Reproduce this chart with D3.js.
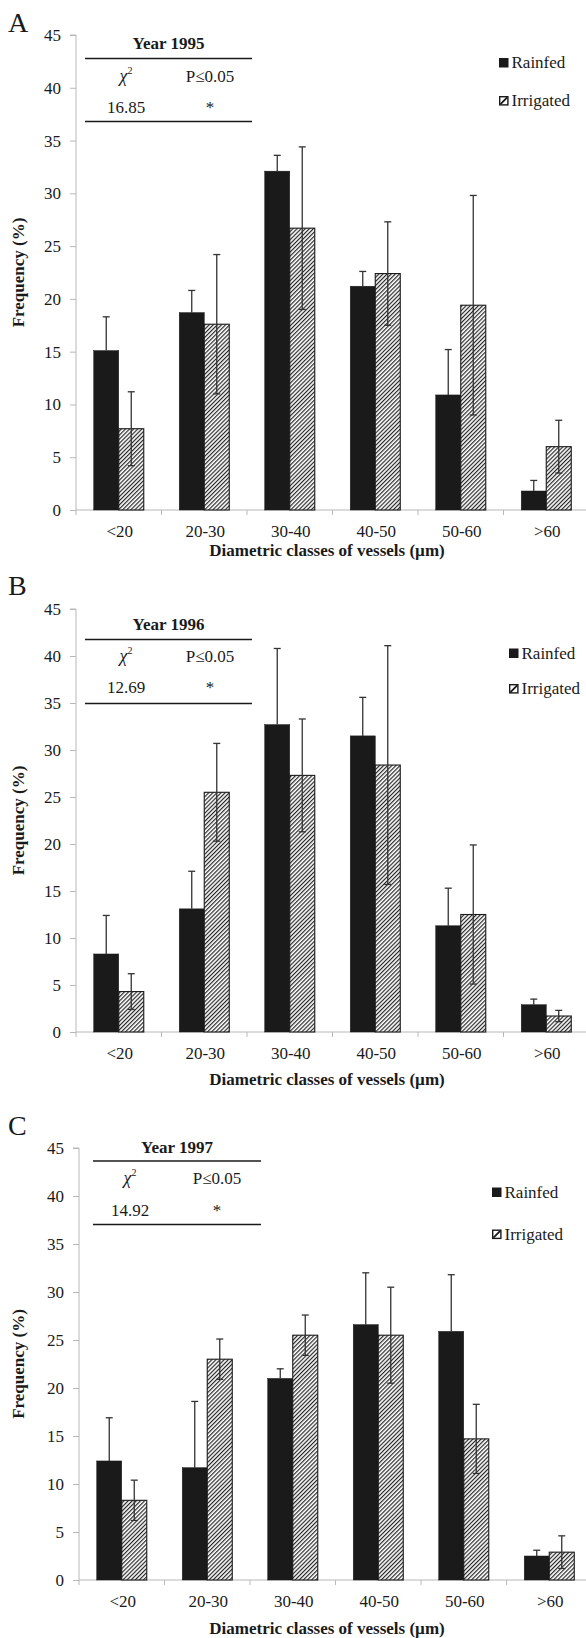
<!DOCTYPE html>
<html>
<head>
<meta charset="utf-8">
<script src="https://cdn.jsdelivr.net/npm/d3@7"></script>
<style>
  body { margin: 0; background: #fff; }
  svg { display: block; }
  svg text { font-family: "Liberation Serif", "DejaVu Serif", "Times New Roman", serif !important; fill: #1a1a1a; }
</style>
</head>
<body>
<script>
// Diameter classes of vessels and the two water regimes
const categories = ["<20", "20-30", "30-40", "40-50", "50-60", ">60"];
const series = ["Rainfed", "Irrigated"];
const yTicks = [0, 5, 10, 15, 20, 25, 30, 35, 40, 45];

// Mean frequency (%) and its error, per year
const rainfed1995 = [15.1, 18.7, 32.1, 21.2, 10.9, 1.8];
const rainfedErr1995 = [3.2, 2.1, 1.5, 1.4, 4.3, 1.0];
const irrigated1995 = [7.7, 17.6, 26.7, 22.4, 19.4, 6.0];
const irrigatedErr1995 = [3.5, 6.6, 7.7, 4.9, 10.4, 2.5];

const rainfed1996 = [8.3, 13.1, 32.7, 31.5, 11.3, 2.9];
const rainfedErr1996 = [4.1, 4.0, 8.1, 4.1, 4.0, 0.6];
const irrigated1996 = [4.3, 25.5, 27.3, 28.4, 12.5, 1.7];
const irrigatedErr1996 = [1.9, 5.2, 6.0, 12.7, 7.4, 0.6];

const rainfed1997 = [12.4, 11.7, 21.0, 26.6, 25.9, 2.5];
const rainfedErr1997 = [4.5, 6.9, 1.0, 5.4, 5.9, 0.6];
const irrigated1997 = [8.3, 23.0, 25.5, 25.5, 14.7, 2.9];
const irrigatedErr1997 = [2.1, 2.1, 2.1, 5.0, 3.6, 1.7];

// Chi-square test per year
const years = ["1995", "1996", "1997"];
const chiSquare = ["16.85", "12.69", "14.92"];
const significance = ["*", "*", "*"];
const panelLetters = ["A", "B", "C"];

const xTitle = "Diametric classes of vessels (\u00b5m)";
const yTitle = "Frequency (%)";

const FONT = "'Liberation Serif', 'DejaVu Serif', 'Times New Roman', serif";

// Panel layout (pixels)
const panels = [
  { values: [rainfed1995, irrigated1995], errs: [rainfedErr1995, irrigatedErr1995],
    top: 35, bottom: 510, left: 76, right: 589, letterY: 32, titleGap: 46,
    table: { x0: 85, x1: 252, yearY: 49, line1: 58.5, row1: 82, row2: 113, line2: 121.5, colL: 126, colR: 210 },
    legend: { x: 499, rows: [62.5, 100.5] } },
  { values: [rainfed1996, irrigated1996], errs: [rainfedErr1996, irrigatedErr1996],
    top: 609, bottom: 1032, left: 76, right: 589, letterY: 595, titleGap: 53,
    table: { x0: 85, x1: 252, yearY: 630, line1: 639.5, row1: 662, row2: 693, line2: 703.5, colL: 126, colR: 210 },
    legend: { x: 509, rows: [653, 688.5] } },
  { values: [rainfed1997, irrigated1997], errs: [rainfedErr1997, irrigatedErr1997],
    top: 1148, bottom: 1580, left: 79, right: 592, letterY: 1135, titleGap: 54,
    table: { x0: 93, x1: 261, yearY: 1153, line1: 1161, row1: 1183.5, row2: 1216, line2: 1224.5, colL: 130, colR: 217 },
    legend: { x: 492, rows: [1192, 1234] } }
];

const W = 586, H = 1638;
const svg = d3.select("body").append("svg").attr("width", W).attr("height", H)
  .attr("font-family", FONT);
svg.append("rect").attr("width", W).attr("height", H).attr("fill", "#fff");

// Diagonal hatching for the irrigated bars
const defs = svg.append("defs");
const pat = defs.append("pattern")
  .attr("id", "hatch").attr("patternUnits", "userSpaceOnUse")
  .attr("width", 2.9).attr("height", 2.9)
  .attr("patternTransform", "rotate(45)");
pat.append("rect").attr("width", 2.9).attr("height", 2.9).attr("fill", "#fff");
pat.append("line").attr("x1", 0.6).attr("y1", 0).attr("x2", 0.6).attr("y2", 2.9)
  .attr("stroke", "#1f1f1f").attr("stroke-width", 1.15);

const axisColor = "#b8b8b8";
const fills = ["#1a1a1a", "url(#hatch)"];

function label(sel) {
  return sel.attr("font-family", FONT).attr("fill", "#1a1a1a");
}

panels.forEach((p, i) => {
  const g = svg.append("g");
  const y = d3.scaleLinear().domain([0, 45]).range([p.bottom, p.top]);
  const x0 = d3.scaleBand().domain(categories).range([p.left, p.right]).padding(0);
  const groupW = x0.bandwidth() * 0.585;
  const x1 = d3.scaleBand().domain(series).range([0, groupW]).padding(0);
  const off = (x0.bandwidth() - groupW) / 2;

  // Panel letter
  label(g.append("text")).attr("x", 8).attr("y", p.letterY)
    .attr("font-size", 28).text(panelLetters[i]);

  // Y axis
  const yAxis = d3.axisLeft(y).tickValues(yTicks).tickSize(6).tickPadding(9);
  const ya = g.append("g").attr("transform", `translate(${p.left},0)`).call(yAxis)
    .attr("font-family", FONT);
  ya.select(".domain").attr("stroke", axisColor).attr("d", `M-6,${p.top}H0V${p.bottom}`);
  ya.selectAll(".tick line").attr("stroke", axisColor);
  label(ya.selectAll(".tick text")).attr("font-size", 17);

  // X axis with ticks at class boundaries
  const xa = g.append("g").attr("transform", `translate(0,${p.bottom})`);
  xa.append("line").attr("x1", p.left).attr("x2", p.right)
    .attr("stroke", axisColor);
  const bounds = categories.map(c => x0(c)).concat([p.right]);
  xa.selectAll("line.tk").data(bounds).join("line").attr("class", "tk")
    .attr("x1", d => d).attr("x2", d => d).attr("y1", 0).attr("y2", 5)
    .attr("stroke", axisColor);
  label(xa.selectAll("text.cat").data(categories).join("text").attr("class", "cat"))
    .attr("x", d => x0(d) + x0.bandwidth() / 2 + 1).attr("y", 27)
    .attr("text-anchor", "middle").attr("font-size", 17).text(d => d);

  label(g.append("text")).attr("x", 327).attr("y", p.bottom + p.titleGap)
    .attr("text-anchor", "middle").attr("font-size", 17).attr("font-weight", "bold")
    .text(xTitle);

  label(g.append("text"))
    .attr("transform", `translate(24,${(p.top + p.bottom) / 2}) rotate(-90)`)
    .attr("text-anchor", "middle").attr("font-size", 17).attr("font-weight", "bold")
    .text(yTitle);

  // Bars
  series.forEach((s, si) => {
    const data = categories.map((c, ci) => ({ c, v: p.values[si][ci], e: p.errs[si][ci] }));
    g.append("g").selectAll("rect").data(data).join("rect")
      .attr("x", d => x0(d.c) + off + x1(s))
      .attr("y", d => y(d.v))
      .attr("width", x1.bandwidth())
      .attr("height", d => y(0) - y(d.v))
      .attr("fill", fills[si])
      .attr("stroke", "#1a1a1a").attr("stroke-width", si === 0 ? 0.5 : 1.1);
  });

  // Error bars (the lower whisker of the solid bars sits inside the bar)
  series.forEach((s, si) => {
    const data = categories.map((c, ci) => ({ c, v: p.values[si][ci], e: p.errs[si][ci] }));
    const eg = g.append("g").attr("stroke", "#333").attr("stroke-width", 1.3);
    data.forEach(d => {
      const cx = x0(d.c) + off + x1(s) + x1.bandwidth() / 2;
      const yHi = y(d.v + d.e), yLo = y(Math.max(0, d.v - d.e));
      const yStart = si === 0 ? y(d.v) : yLo;
      eg.append("line").attr("x1", cx).attr("x2", cx).attr("y1", yHi).attr("y2", yStart);
      eg.append("line").attr("x1", cx - 3.5).attr("x2", cx + 3.5).attr("y1", yHi).attr("y2", yHi);
      if (si === 1) {
        eg.append("line").attr("x1", cx - 3.5).attr("x2", cx + 3.5).attr("y1", yLo).attr("y2", yLo);
      }
    });
  });

  // Chi-square table
  const t = p.table;
  const tg = g.append("g");
  label(tg.append("text")).attr("x", (t.x0 + t.x1) / 2).attr("y", t.yearY)
    .attr("text-anchor", "middle").attr("font-size", 17).attr("font-weight", "bold")
    .text("Year " + years[i]);
  [t.line1, t.line2].forEach(ly => tg.append("line")
    .attr("x1", t.x0).attr("x2", t.x1).attr("y1", ly).attr("y2", ly)
    .attr("stroke", "#1a1a1a").attr("stroke-width", 1.6));
  const chi = label(tg.append("text")).attr("x", t.colL).attr("y", t.row1)
    .attr("text-anchor", "middle").attr("font-size", 18);
  chi.append("tspan").attr("font-style", "italic").text("\u03c7");
  chi.append("tspan").attr("font-size", 10).attr("dy", -8).text("2");
  label(tg.append("text")).attr("x", t.colR).attr("y", t.row1)
    .attr("text-anchor", "middle").attr("font-size", 17).text("P\u22640.05");
  label(tg.append("text")).attr("x", t.colL).attr("y", t.row2)
    .attr("text-anchor", "middle").attr("font-size", 17).text(chiSquare[i]);
  label(tg.append("text")).attr("x", t.colR).attr("y", t.row2)
    .attr("text-anchor", "middle").attr("font-size", 17).text(significance[i]);

  // Legend
  const L = p.legend;
  series.forEach((s, si) => {
    const cy = L.rows[si];
    if (si === 0) {
      g.append("rect").attr("x", L.x).attr("y", cy - 4.5).attr("width", 9.5).attr("height", 9.5)
        .attr("fill", "#1a1a1a");
    } else {
      g.append("rect").attr("x", L.x + 0.7).attr("y", cy - 3.8).attr("width", 8.2).attr("height", 8.2)
        .attr("fill", "#fff").attr("stroke", "#1a1a1a").attr("stroke-width", 1.4);
      g.append("line").attr("x1", L.x + 1.5).attr("y1", cy + 3.6).attr("x2", L.x + 8.2).attr("y2", cy - 3.1)
        .attr("stroke", "#1a1a1a").attr("stroke-width", 1.8);
    }
    label(g.append("text")).attr("x", L.x + 12.5).attr("y", cy + 5.5)
      .attr("font-size", 17).text(s);
  });
});
</script>
</body>
</html>
